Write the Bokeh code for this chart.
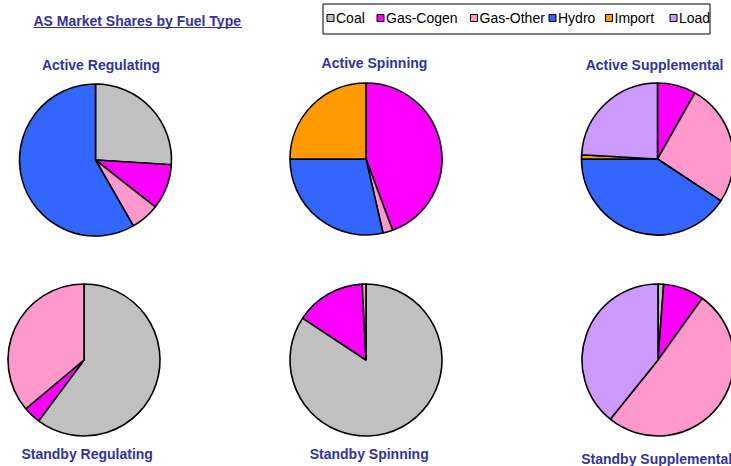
import math
from bokeh.plotting import figure
from bokeh.models import Range1d, ColumnDataSource
from bokeh.core.properties import value
from bokeh.embed import file_html
from bokeh.resources import INLINE

# ---- data ----
fuels = ["Coal", "Gas-Cogen", "Gas-Other", "Hydro", "Import", "Load"]
colors = ["#C0C0C0", "#FF00FF", "#FF99CC", "#3366FF", "#FF9900", "#CC99FF"]

active_regulating = [26.0, 9.6, 6.1, 58.3, 0.0, 0.0]
active_spinning = [0.0, 44.3, 2.1, 28.6, 25.0, 0.0]
active_supplemental = [0.0, 8.2, 26.1, 40.7, 0.9, 24.1]
standby_regulating = [60.2, 3.7, 36.1, 0.0, 0.0, 0.0]
standby_spinning = [84.3, 14.9, 0.8, 0.0, 0.0, 0.0]
standby_supplemental = [1.2, 8.7, 50.9, 0.0, 0.0, 39.2]

pie_titles = ["Active Regulating", "Active Spinning", "Active Supplemental",
              "Standby Regulating", "Standby Spinning", "Standby Supplemental"]
pie_values = [active_regulating, active_spinning, active_supplemental,
              standby_regulating, standby_spinning, standby_supplemental]

main_title = "AS Market Shares by Fuel Type"

# ---- layout (screen pixel coords of the page) ----
W, H = 731, 466
def Y(sy):
    return H - sy

centers = [(95, 159.5), (365.5, 158.5), (657, 158.5),
           (83.5, 359.5), (365.5, 359.5), (657.5, 359.5)]
R = 76
title_pos = [(100.5, 64, "center"), (374, 62.5, "center"), (654, 64.5, "center"),
             (86.7, 453.5, "center"), (368.7, 453.5, "center"), (580.7, 458, "left")]

TXT = "#333399"
FONT = "Liberation Sans"

p = figure(width=W, height=H, output_backend="svg", toolbar_location=None,
           x_range=Range1d(0, W), y_range=Range1d(0, H),
           min_border=0, outline_line_color=None)
p.axis.visible = False
p.grid.visible = False
p.background_fill_color = "white"

# pies
for (cx, cy), vals in zip(centers, pie_values):
    total = sum(vals)
    xs, ys, sa, ea, cols = [], [], [], [], []
    cum = 0.0
    for v, c in zip(vals, colors):
        if v <= 0:
            continue
        a0 = math.pi / 2 - 2 * math.pi * (cum + v) / total
        a1 = math.pi / 2 - 2 * math.pi * cum / total
        cum += v
        xs.append(cx); ys.append(Y(cy)); sa.append(a0); ea.append(a1); cols.append(c)
    src = ColumnDataSource(dict(x=xs, y=ys, sa=sa, ea=ea, c=cols))
    p.wedge(x="x", y="y", radius=R, start_angle="sa", end_angle="ea",
            fill_color="c", line_color="black", line_width=1.6, source=src)

# pie titles
for (tx, ty, al), t in zip(title_pos, pie_titles):
    p.text(x=[tx], y=[Y(ty)], text=[t], text_font=value(FONT),
           text_font_style="bold", text_font_size="14px", text_color=TXT,
           text_align=al, text_baseline="middle")

# main title with underline
p.text(x=[33], y=[Y(20)], text=[main_title], text_font=value(FONT),
       text_font_style="bold", text_font_size="14px", text_color=TXT,
       text_align="left", text_baseline="middle")
p.segment(x0=[33], y0=[Y(27)], x1=[241.5], y1=[Y(27)], line_color=TXT, line_width=1.2)

# legend box
p.quad(left=[322.5], right=[709.5], top=[Y(3.5)], bottom=[Y(33.5)],
       fill_color="white", line_color="black", line_width=1)
sq_x = [330, 380, 473.5, 552, 608.5, 673]
tx_x = [335.5, 385.5, 479, 557.5, 614, 678.5]
p.rect(x=sq_x, y=[Y(17.5)] * 6, width=7, height=7, fill_color=colors,
       line_color="black", line_width=1)
p.text(x=tx_x, y=[Y(17.5)] * 6, text=fuels, text_font=value(FONT),
       text_font_size="14px", text_color="black", text_align="left",
       text_baseline="middle")

open("out.html", "w").write(file_html(p, INLINE))
